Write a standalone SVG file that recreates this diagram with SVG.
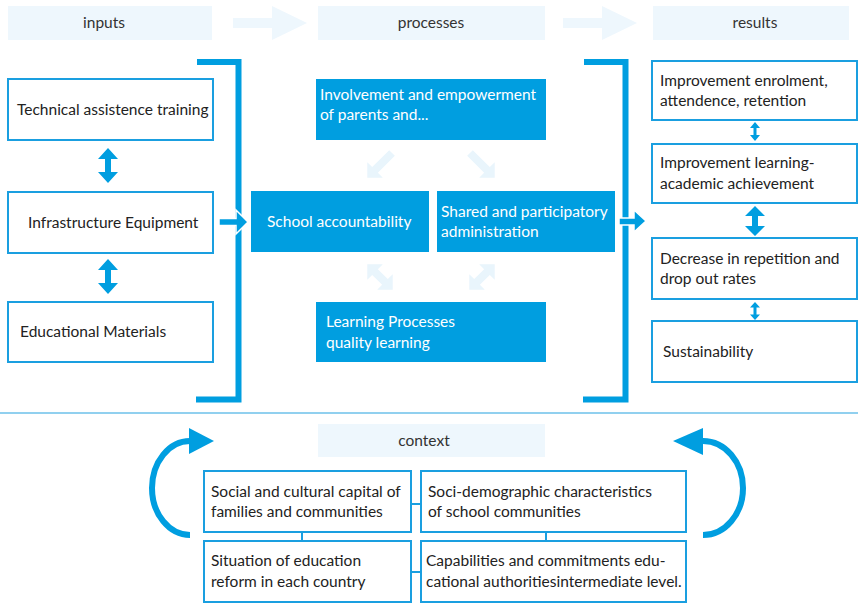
<svg xmlns="http://www.w3.org/2000/svg" width="858" height="603" viewBox="0 0 858 603">
<defs>
<style>
text{font-family:Lato,"Open Sans","Liberation Sans",sans-serif;font-size:15.5px;fill:#222}
.hdr{fill:#eef7fd}
.hdrt{text-anchor:middle;font-size:15.5px;fill:#333}
.box{fill:#fff;stroke:#1a9fe0;stroke-width:2}
.bbox{fill:#009ee0}
.wt{fill:#fff}
.blue{fill:#009ee0}
.pale{fill:#e9f5fc}
.br{fill:none;stroke:#009ee0;stroke-width:6}
.ln{stroke:#1a9fe0;stroke-width:2;fill:none}
</style>
</defs>

<!-- headers -->
<g id="hdr-inputs"><rect class="hdr" x="8" y="6" width="204" height="34"/><text class="hdrt" x="104" y="28">inputs</text></g>
<g id="hdr-processes"><rect class="hdr" x="318" y="6" width="227" height="34"/><text class="hdrt" x="431" y="28">processes</text></g>
<g id="hdr-results"><rect class="hdr" x="653" y="6" width="196" height="34"/><text class="hdrt" x="755" y="28">results</text></g>
<g id="hdr-context"><rect class="hdr" x="318" y="424" width="227" height="33"/><text class="hdrt" x="424" y="446">context</text></g>

<!-- inputs -->
<g id="in1"><rect class="box" x="8" y="79" width="205" height="61"/><text x="17" y="115">Technical assistence training</text></g>
<g id="in2"><rect class="box" x="8" y="192" width="205" height="61"/><text x="28" y="228">Infrastructure Equipment</text></g>
<g id="in3"><rect class="box" x="8" y="302" width="205" height="60"/><text x="20" y="337">Educational Materials</text></g>

<!-- processes -->
<g id="p1"><rect class="bbox" x="316" y="79" width="230" height="61"/><text class="wt" x="320" y="100">Involvement and empowerment</text><text class="wt" x="320" y="120">of parents and...</text></g>
<g id="p2"><rect class="bbox" x="251" y="191" width="178" height="61"/><text class="wt" x="267" y="227">School accountability</text></g>
<g id="p3"><rect class="bbox" x="437" y="191" width="178" height="61"/><text class="wt" x="441" y="217">Shared and participatory</text><text class="wt" x="441" y="237">administration</text></g>
<g id="p4"><rect class="bbox" x="316" y="302" width="230" height="60"/><text class="wt" x="326" y="327">Learning Processes</text><text class="wt" x="326" y="348">quality learning</text></g>

<!-- results -->
<g id="r1"><rect class="box" x="652" y="61" width="205" height="59"/><text x="660" y="86">Improvement enrolment,</text><text x="660" y="106">attendence, retention</text></g>
<g id="r2"><rect class="box" x="652" y="144" width="205" height="59"/><text x="660" y="168">Improvement learning-</text><text x="660" y="189">academic achievement</text></g>
<g id="r3"><rect class="box" x="652" y="238" width="205" height="61"/><text x="660" y="264">Decrease in repetition and</text><text x="660" y="284">drop out rates</text></g>
<g id="r4"><rect class="box" x="652" y="321" width="205" height="61"/><text x="663" y="357">Sustainability</text></g>

<!-- context -->
<g id="c1"><rect class="box" x="204" y="471" width="207" height="61"/><text x="211" y="497">Social and cultural capital of</text><text x="211" y="517">families and communities</text></g>
<g id="c2"><rect class="box" x="421" y="471" width="265" height="61"/><text x="428" y="497">Soci-demographic characteristics</text><text x="428" y="517">of school communities</text></g>
<g id="c3"><rect class="box" x="204" y="541" width="207" height="61"/><text x="211" y="566">Situation of education</text><text x="211" y="587">reform in each country</text></g>
<g id="c4"><rect class="box" x="421" y="541" width="265" height="61"/><text x="426" y="566">Capabilities and commitments edu-</text><text x="426" y="587">cational authoritiesintermediate level.</text></g>

<g id="connectors">
<!-- header arrows -->
<polygon class="hdr" points="233,18 272,18 272,6 307,23 272,40 272,28 233,28"/>
<polygon class="hdr" points="563,18 602,18 602,6 637,23 602,40 602,28 563,28"/>
<!-- brackets -->
<path class="br" d="M197 62 H238.5 V399.5 H196"/>
<path class="br" d="M584 62 H625.5 V399.5 H583"/>
<!-- arrows into/out of brackets -->
<polygon class="blue" stroke="#fff" stroke-width="1.5" points="219,218.5 236,218.5 236,210 248,222 236,234 236,225.5 219,225.5"/>
<polygon class="blue" stroke="#fff" stroke-width="1.5" points="619,218 634,218 634,210 646,221 634,232 634,225 619,225"/>
<!-- input double arrows -->
<polygon class="blue" points="108,148 118,159 111,159 111,172 118,172 108,183 98,172 105,172 105,159 98,159"/>
<polygon class="blue" points="108,259 118,270 111,270 111,283 118,283 108,294 98,283 105,283 105,270 98,270"/>
<!-- result double arrows -->
<polygon class="blue" points="755,122 760,128 756.5,128 756.5,135 760,135 755,141 750,135 753.5,135 753.5,128 750,128"/>
<polygon class="blue" points="755,206 765,216 758,216 758,226 765,226 755,236 745,226 752,226 752,216 745,216"/>
<polygon class="blue" points="755,302 760,307.5 756.5,307.5 756.5,314.5 760,314.5 755,320 750,314.5 753.5,314.5 753.5,307.5 750,307.5"/>
<!-- pale process arrows -->
<polygon class="pale" transform="translate(380,165) rotate(135)" points="-17,-4 7,-4 7,-11 18,0 7,11 7,4 -17,4"/>
<polygon class="pale" transform="translate(482,165) rotate(45)" points="-17,-4 7,-4 7,-11 18,0 7,11 7,4 -17,4"/>
<polygon class="pale" transform="translate(380,277) rotate(45)" points="-18,0 -7,-11 -7,-4 7,-4 7,-11 18,0 7,11 7,4 -7,4 -7,11"/>
<polygon class="pale" transform="translate(482,277) rotate(-45)" points="-18,0 -7,-11 -7,-4 7,-4 7,-11 18,0 7,11 7,4 -7,4 -7,11"/>
<!-- divider -->
<line x1="0" y1="413" x2="858" y2="413" stroke="#6cc0ea" stroke-width="1.5"/>
<!-- context curved arrows -->
<path class="br" d="M190 535 A38 47 0 0 1 190 441"/>
<polygon class="blue" points="189,428 214,441 189,454"/>
<path class="br" d="M703 535 A40 47 0 0 0 703 441"/>
<polygon class="blue" points="703,428 673,441 703,455"/>
<!-- context links -->
<line class="ln" x1="302" y1="532" x2="302" y2="541"/>
<line class="ln" x1="546" y1="532" x2="546" y2="541"/>
<line class="ln" x1="411" y1="504" x2="421" y2="504"/>
<line class="ln" x1="411" y1="572" x2="421" y2="572"/>
</g>
</svg>
